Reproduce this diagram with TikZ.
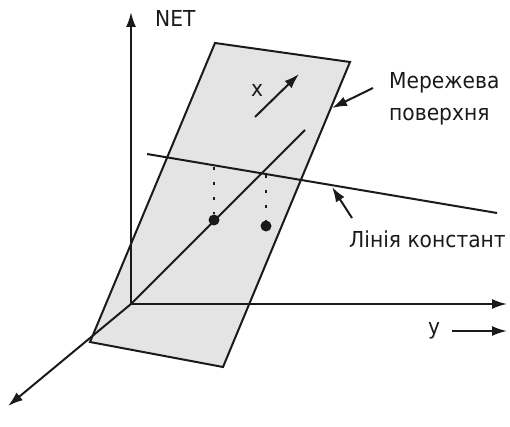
\documentclass[tikz,border=0pt]{standalone}
\usepackage{fontspec}
\setmainfont{DejaVu Sans}[FakeStretch=0.92]
\usetikzlibrary{arrows.meta}
\definecolor{planegray}{HTML}{E4E4E4}
\definecolor{inkblack}{HTML}{1A1A1A}

\begin{document}
\begin{tikzpicture}[
  x=1pt, y=-1pt,
  >={Latex[length=15pt, width=10pt]},
  axis/.style={draw=inkblack, line width=2pt, ->},
  edge/.style={draw=inkblack, line width=2pt},
  pointer/.style={draw=inkblack, line width=2pt, ->},
  drop/.style={draw=inkblack, line width=2.2pt, dash pattern=on 3pt off 12pt},
  dot/.style={circle, fill=inkblack, inner sep=0pt, minimum size=11pt},
  lab/.style={font=\fontsize{22}{32}\selectfont, text=inkblack, inner sep=0pt, anchor=base west},
]

% Background
\useasboundingbox (0,0) rectangle (510,427);

% Plane
\coordinate (p1) at (215,43);
\coordinate (p2) at (350,62);
\coordinate (p3) at (223,367);
\coordinate (p4) at (90,342);
\filldraw[edge, fill=planegray] (p1) -- (p2) -- (p3) -- (p4) -- cycle;

% Axes
\coordinate (o) at (131,304);
\coordinate (ztop) at (131,12);
\coordinate (yend) at (507,304);
\coordinate (xend) at (8,406);
\coordinate (xfar) at (305,130);
\draw[axis] (o) -- (ztop);
\draw[axis] (o) -- (yend);
\draw[axis] (o) -- (xend);
\draw[edge] (o) -- (xfar);

% Line of constants
\coordinate (c1) at (147,154);
\coordinate (c2) at (497,213);
\draw[edge] (c1) -- (c2);

% Points
\node[dot] (d1) at (214,220) {};
\node[dot] (d2) at (266,226) {};
\coordinate (t1) at (214,167);
\coordinate (t2) at (266,175);
\draw[drop] (t1) -- (d1);
\draw[drop] (t2) -- (d2);

% Labels
\node[lab] (net) at (155,27) {NET};
\node[lab] (xlab) at (251,97) {x};
\coordinate (xa) at (255,117);
\coordinate (xb) at (299,74);
\draw[pointer] (xa) -- (xb);

\node[lab] (surf1) at (389,89) {Мережева};
\node[lab] (surf2) at (389,121) {поверхня};
\coordinate (sa) at (373,88);
\coordinate (sb) at (332,108);
\draw[pointer] (sa) -- (sb);

\node[lab] (const) at (349,247) {Лінія констант};
\coordinate (ca) at (352,218);
\coordinate (cb) at (332,187);
\draw[pointer] (ca) -- (cb);

\node[lab] (ylab) at (428,334) {y};
\coordinate (ya) at (452,331);
\coordinate (yb) at (507,331);
\draw[pointer] (ya) -- (yb);
\end{tikzpicture}
\end{document}
